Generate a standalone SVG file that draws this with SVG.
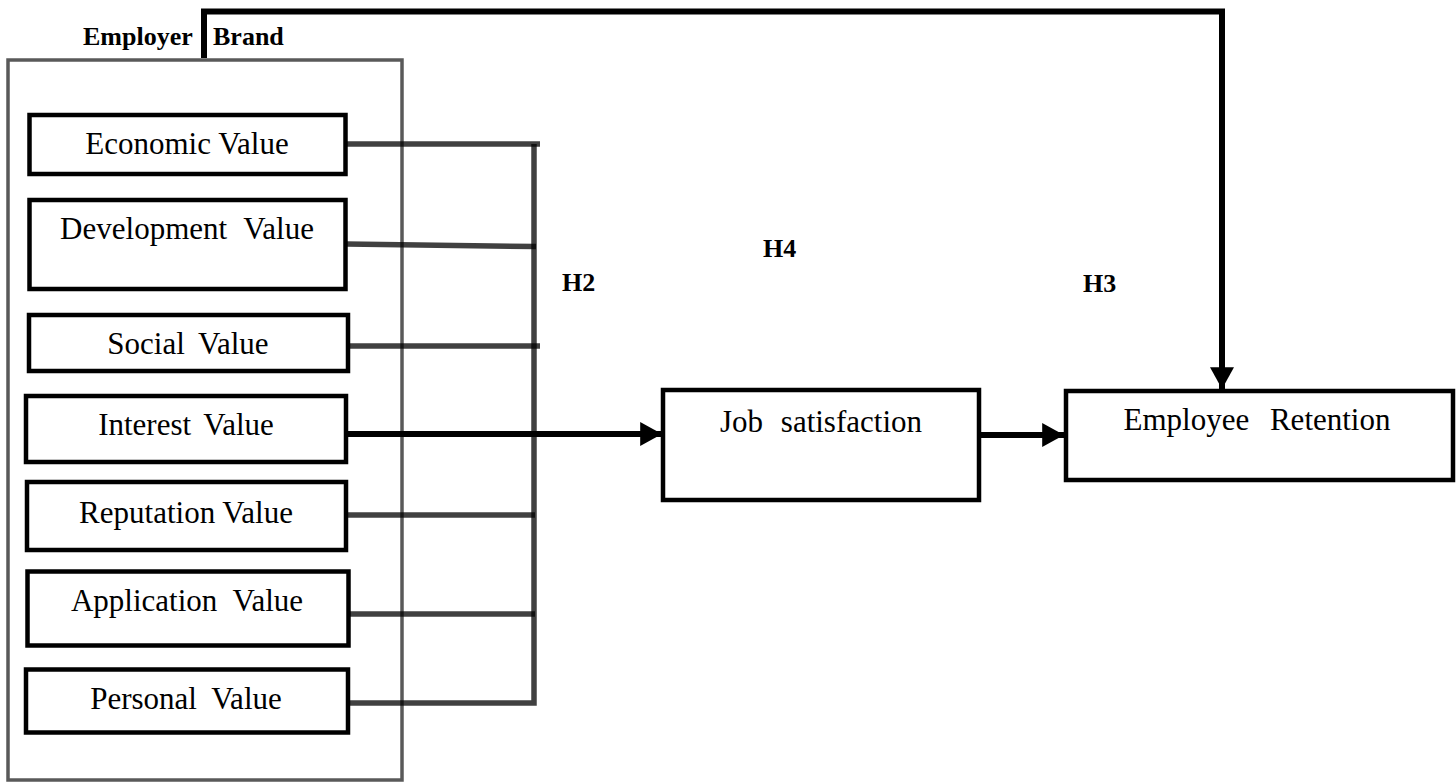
<svg xmlns="http://www.w3.org/2000/svg" width="1456" height="782" viewBox="0 0 1456 782">
<defs>
<style>
.box{fill:#fff;stroke:#000;stroke-width:4.5}
.t{font-family:"Liberation Serif","Times New Roman",serif;font-size:31px;fill:#000;text-anchor:middle}
.b{font-family:"Liberation Serif","Times New Roman",serif;font-size:26px;font-weight:bold;fill:#000}
.g{stroke:#000;stroke-opacity:0.75;stroke-width:5.5;fill:none}
.k{stroke:#000;stroke-width:6;fill:none}
</style>
<marker id="ah" markerUnits="userSpaceOnUse" markerWidth="24" markerHeight="24" viewBox="0 0 20 22" refX="20" refY="11" orient="auto">
<path d="M0,0 L20,11 L0,22 Z" fill="#000"/>
</marker>
</defs>
<rect width="1456" height="782" fill="#fff"/>
<g id="employer-brand">
<rect x="8" y="60" width="394" height="720" fill="none" stroke="#000" stroke-opacity="0.65" stroke-width="3.5"/>
<text class="b" x="83" y="45">Employer</text>
<text class="b" x="213" y="45">Brand</text>
</g>
<g id="economic"><rect class="box" x="29.5" y="115" width="316" height="59"/><text class="t" x="187" y="154">Economic Value</text></g>
<g id="development"><rect class="box" x="29.5" y="200" width="316" height="89"/><text class="t" x="187" y="239" word-spacing="9">Development Value</text></g>
<g id="social"><rect class="box" x="29" y="315" width="319" height="56"/><text class="t" x="188" y="354" word-spacing="6">Social Value</text></g>
<g id="interest"><rect class="box" x="26" y="396" width="320" height="66"/><text class="t" x="186" y="435" word-spacing="5">Interest Value</text></g>
<g id="reputation"><rect class="box" x="27" y="482" width="319" height="68"/><text class="t" x="186" y="523">Reputation Value</text></g>
<g id="application"><rect class="box" x="27.5" y="571.5" width="321" height="74"/><text class="t" x="187" y="611" word-spacing="8">Application Value</text></g>
<g id="personal"><rect class="box" x="26" y="669.5" width="322" height="63"/><text class="t" x="186" y="709" word-spacing="7">Personal Value</text></g>
<g id="job-satisfaction"><rect class="box" x="663" y="390" width="316" height="110"/><text class="t" x="821" y="432" word-spacing="10">Job satisfaction</text></g>
<g id="employee-retention"><rect class="box" x="1066" y="391" width="387" height="89"/><text class="t" x="1257" y="430" word-spacing="13">Employee Retention</text></g>
<g id="connectors">
<path class="g" d="M346,144 H540"/>
<path class="g" d="M346,244 L536,246.5"/>
<path class="g" d="M348,346 H540"/>
<path class="g" d="M346,515 H535"/>
<path class="g" d="M349,614 H535"/>
<path class="g" d="M348,703 H534 V144"/>
<path class="k" d="M346,434 H662" marker-end="url(#ah)"/>
<path class="k" d="M979,435 H1064" marker-end="url(#ah)"/>
<path class="k" d="M204,58 V11.5 H1222 V389" marker-end="url(#ah)"/>
</g>
<g id="labels">
<text class="b" x="562" y="291">H2</text>
<text class="b" x="763" y="257">H4</text>
<text class="b" x="1083" y="292">H3</text>
</g>
</svg>
